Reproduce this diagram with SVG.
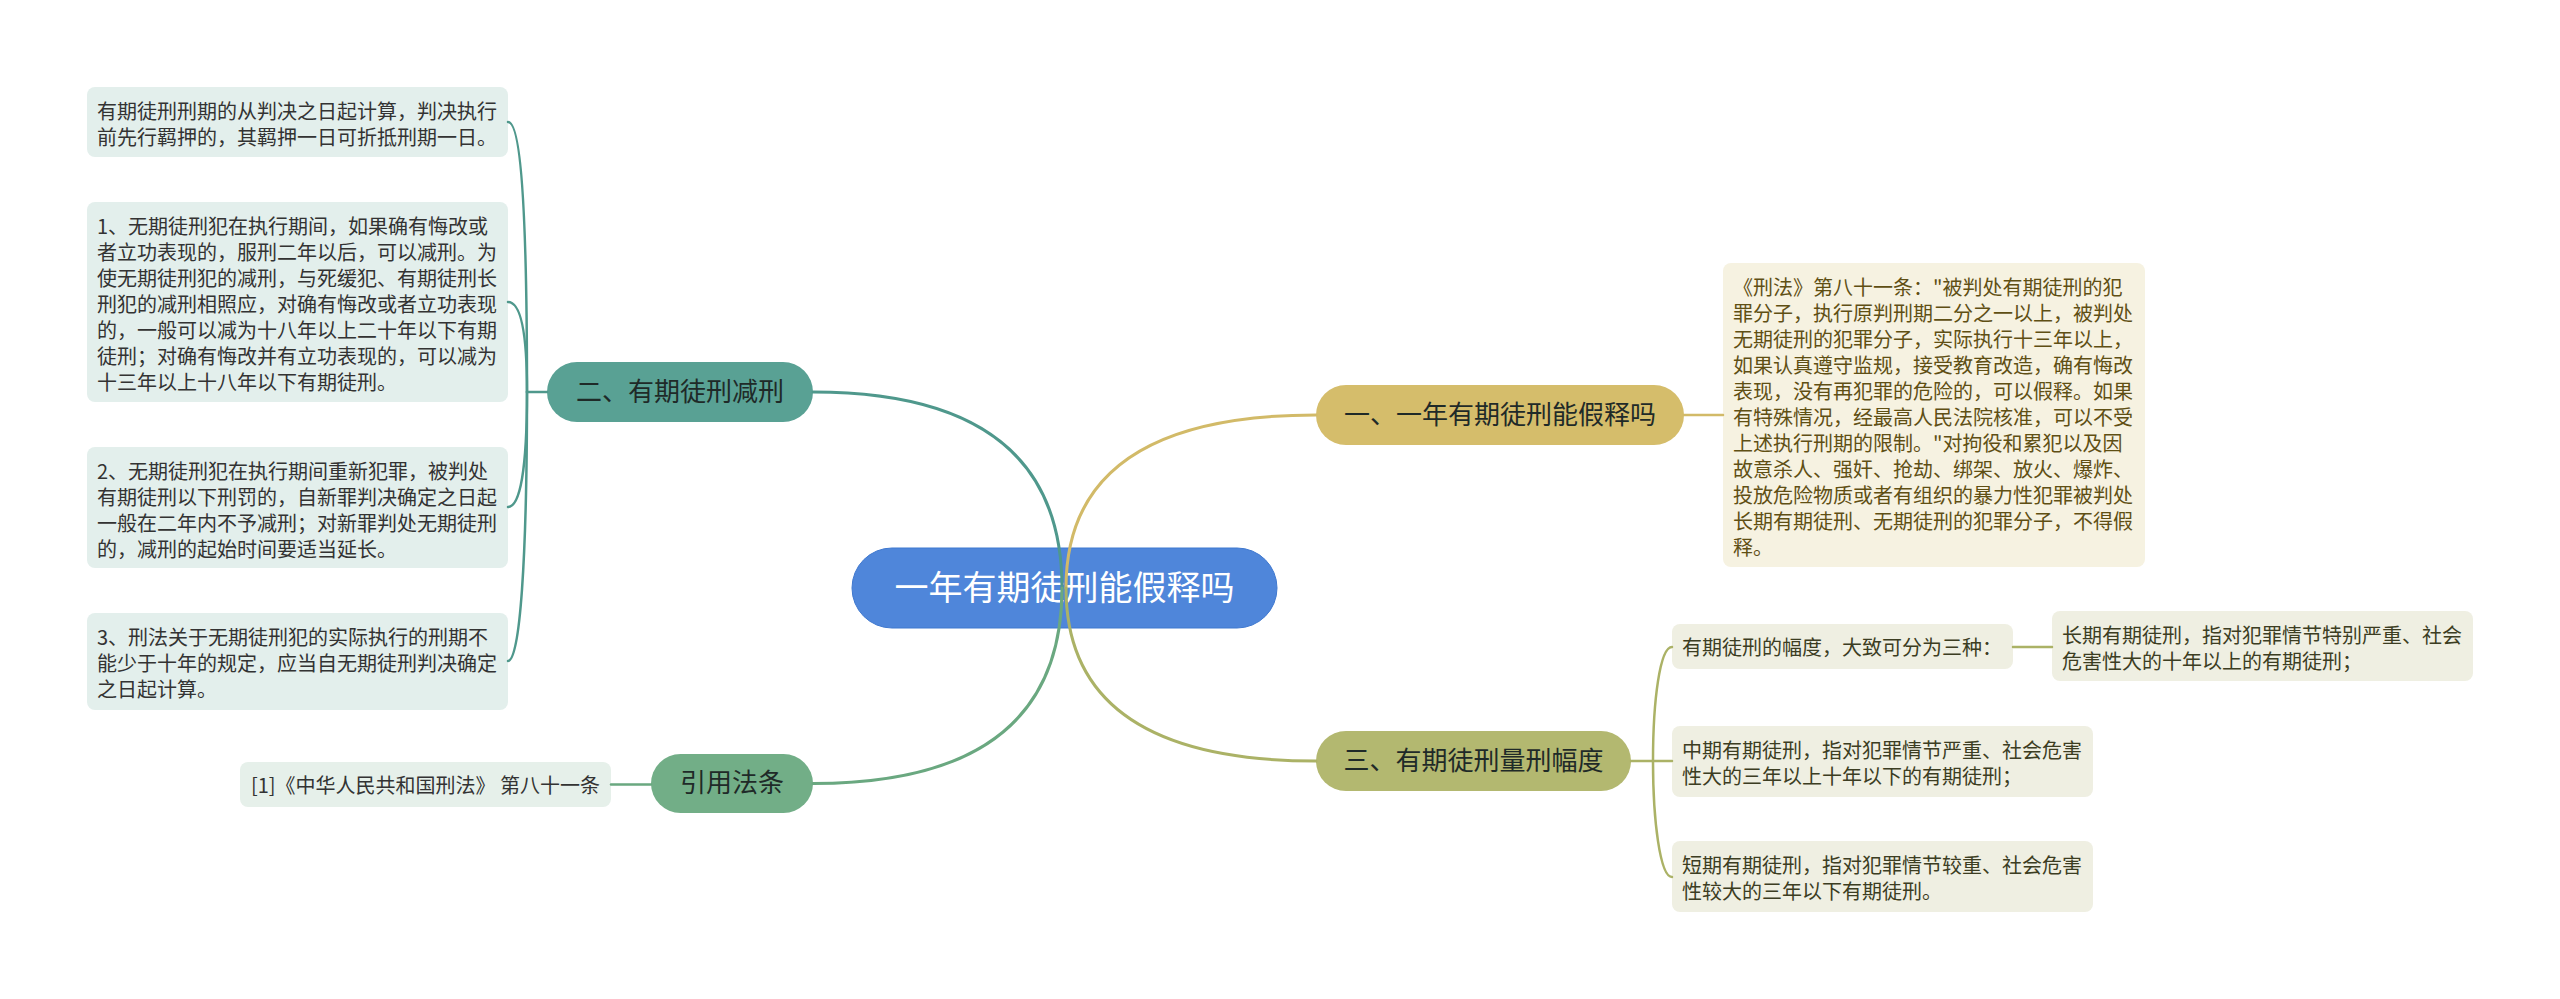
<svg xmlns="http://www.w3.org/2000/svg" width="2560" height="999" viewBox="0 0 2560 999">
<style>
text{font-family:"Noto Sans CJK SC","Noto Sans",sans-serif;}
.main{font-size:26px;text-anchor:middle;fill:#1f2a28;}
.leaf{font-size:20px;}
.tl{fill:#333333;}
.tg{fill:#5f4f14;}
.to{fill:#3c3d22;}
.c{fill:none;stroke-linecap:round;}
.teal{stroke:#4f988c;}
.gold{stroke:#d2ba68;}
.olive{stroke:#abb266;}
.green{stroke:#6aa880;}
.m{stroke-width:3;}
.s{stroke-width:2.5;}
</style>
<rect width="2560" height="999" fill="#ffffff"/>
<g id="center">
<rect x="852" y="548" width="425" height="80" rx="40" fill="#4f86da" stroke="#3f78cf" stroke-width="1"/>
<text x="1064.5" y="600" font-size="34" text-anchor="middle" fill="#ffffff">一年有期徒刑能假释吗</text>
</g>
<g id="n-jianxing">
<rect x="547" y="362" width="266" height="60" rx="30" fill="#59a194"/>
<text class="main" x="680" y="401">二、有期徒刑减刑</text>
</g>
<g id="n-jiashi">
<rect x="1316" y="385" width="368" height="60" rx="30" fill="#d5bd6b"/>
<text class="main" x="1500" y="424">一、一年有期徒刑能假释吗</text>
</g>
<g id="n-liangxing">
<rect x="1316" y="731" width="315" height="60" rx="30" fill="#b3b870"/>
<text class="main" x="1473.5" y="770">三、有期徒刑量刑幅度</text>
</g>
<g id="n-yinyong">
<rect x="651" y="754" width="162" height="59" rx="29.5" fill="#72ae87"/>
<text class="main" x="732" y="792">引用法条</text>
</g>
<g id="leaf-l1">
<rect x="87" y="87" width="421" height="70" rx="8" fill="#e3efec"/>
<text class="leaf tl"><tspan x="97" y="119">有期徒刑刑期的从判决之日起计算，判决执行</tspan><tspan x="97" y="145">前先行羁押的，其羁押一日可折抵刑期一日。</tspan></text>
</g>
<g id="leaf-l2">
<rect x="87" y="202" width="421" height="200" rx="8" fill="#e3efec"/>
<text class="leaf tl"><tspan x="97" y="234">1、无期徒刑犯在执行期间，如果确有悔改或</tspan><tspan x="97" y="260">者立功表现的，服刑二年以后，可以减刑。为</tspan><tspan x="97" y="286">使无期徒刑犯的减刑，与死缓犯、有期徒刑长</tspan><tspan x="97" y="312">刑犯的减刑相照应，对确有悔改或者立功表现</tspan><tspan x="97" y="338">的，一般可以减为十八年以上二十年以下有期</tspan><tspan x="97" y="364">徒刑；对确有悔改并有立功表现的，可以减为</tspan><tspan x="97" y="390">十三年以上十八年以下有期徒刑。</tspan></text>
</g>
<g id="leaf-l3">
<rect x="87" y="447" width="421" height="121" rx="8" fill="#e3efec"/>
<text class="leaf tl"><tspan x="97" y="479">2、无期徒刑犯在执行期间重新犯罪，被判处</tspan><tspan x="97" y="505">有期徒刑以下刑罚的，自新罪判决确定之日起</tspan><tspan x="97" y="531">一般在二年内不予减刑；对新罪判处无期徒刑</tspan><tspan x="97" y="557">的，减刑的起始时间要适当延长。</tspan></text>
</g>
<g id="leaf-l4">
<rect x="87" y="613" width="421" height="97" rx="8" fill="#e3efec"/>
<text class="leaf tl"><tspan x="97" y="645">3、刑法关于无期徒刑犯的实际执行的刑期不</tspan><tspan x="97" y="671">能少于十年的规定，应当自无期徒刑判决确定</tspan><tspan x="97" y="697">之日起计算。</tspan></text>
</g>
<g id="leaf-cite">
<rect x="240" y="762" width="371" height="45" rx="8" fill="#e6f0ea"/>
<text class="leaf tl" x="251" y="793">[1]《中华人民共和国刑法》 第八十一条</text>
</g>
<g id="leaf-xingfa">
<rect x="1723" y="263" width="422" height="304" rx="8" fill="#f6f2e1"/>
<text class="leaf tg"><tspan x="1733" y="295">《刑法》第八十一条："被判处有期徒刑的犯</tspan><tspan x="1733" y="321">罪分子，执行原判刑期二分之一以上，被判处</tspan><tspan x="1733" y="347">无期徒刑的犯罪分子，实际执行十三年以上，</tspan><tspan x="1733" y="373">如果认真遵守监规，接受教育改造，确有悔改</tspan><tspan x="1733" y="399">表现，没有再犯罪的危险的，可以假释。如果</tspan><tspan x="1733" y="425">有特殊情况，经最高人民法院核准，可以不受</tspan><tspan x="1733" y="451">上述执行刑期的限制。"对拘役和累犯以及因</tspan><tspan x="1733" y="477">故意杀人、强奸、抢劫、绑架、放火、爆炸、</tspan><tspan x="1733" y="503">投放危险物质或者有组织的暴力性犯罪被判处</tspan><tspan x="1733" y="529">长期有期徒刑、无期徒刑的犯罪分子，不得假</tspan><tspan x="1733" y="555">释。</tspan></text>
</g>
<g id="leaf-fudu">
<rect x="1672" y="624" width="341" height="45" rx="8" fill="#efefe2"/>
<text class="leaf to" x="1682" y="655">有期徒刑的幅度，大致可分为三种：</text>
</g>
<g id="leaf-changqi">
<rect x="2052" y="611" width="421" height="70" rx="8" fill="#efefe2"/>
<text class="leaf to"><tspan x="2062" y="643">长期有期徒刑，指对犯罪情节特别严重、社会</tspan><tspan x="2062" y="669">危害性大的十年以上的有期徒刑；</tspan></text>
</g>
<g id="leaf-zhongqi">
<rect x="1672" y="726" width="421" height="71" rx="8" fill="#efefe2"/>
<text class="leaf to"><tspan x="1682" y="758">中期有期徒刑，指对犯罪情节严重、社会危害</tspan><tspan x="1682" y="784">性大的三年以上十年以下的有期徒刑；</tspan></text>
</g>
<g id="leaf-duanqi">
<rect x="1672" y="841" width="421" height="71" rx="8" fill="#efefe2"/>
<text class="leaf to"><tspan x="1682" y="873">短期有期徒刑，指对犯罪情节较重、社会危害</tspan><tspan x="1682" y="899">性较大的三年以下有期徒刑。</tspan></text>
</g>
<g id="connectors">
<path class="c teal m" d="M813,392 Q1062,392 1062,588"/>
<path class="c green m" d="M813,783.5 Q1062,783.5 1062,588"/>
<path class="c gold m" d="M1316,415 Q1066,415 1066,588"/>
<path class="c olive m" d="M1316,761 Q1066,761 1066,588"/>
<path class="c teal s" d="M547,392 H527"/>
<path class="c teal s" d="M508,122 C520,122 527,200 527,392"/>
<path class="c teal s" d="M508,302 C520,302 527,330 527,392"/>
<path class="c teal s" d="M508,507 C520,507 527,470 527,392"/>
<path class="c teal s" d="M508,661 C520,661 527,560 527,392"/>
<path class="c green s" d="M611,784.5 H651"/>
<path class="c gold s" d="M1684,415 H1723"/>
<path class="c olive s" d="M1631,761 H1672"/>
<path class="c olive s" d="M1672,647 C1660,647 1653,700 1653,761"/>
<path class="c olive s" d="M1672,877 C1660,877 1653,820 1653,761"/>
<path class="c olive s" d="M2013,647 H2052"/>
</g>
</svg>
